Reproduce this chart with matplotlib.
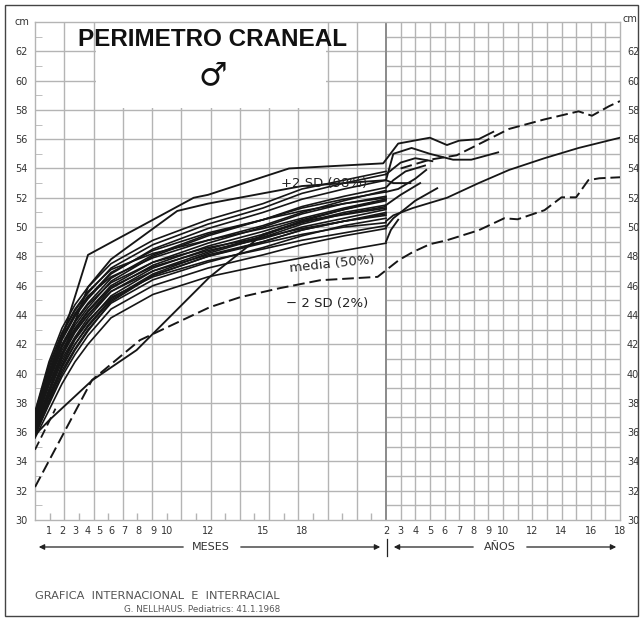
import numpy as np
import matplotlib.pyplot as plt
from matplotlib.patches import Rectangle, FancyArrowPatch

# ---- x scale: age (months) -> position on the printed sheet (non linear in the first 2 years)
AGE_ANCHORS = [0, 1, 2, 3, 4, 5, 6, 7, 8, 9, 10, 12, 15, 18, 24, 216]
POS_ANCHORS = [35, 49, 62, 75, 88, 99, 111, 124, 138, 153, 167, 208, 263, 302, 386, 620]

def to_pos(a):
    return np.interp(a, AGE_ANCHORS, POS_ANCHORS)

def to_age(p):
    return np.interp(p, POS_ANCHORS, AGE_ANCHORS)

# ---- ticks
tick_ages = [1, 2, 3, 4, 5, 6, 7, 8, 9, 10, 12, 15, 18, 24,
             36, 48, 60, 72, 84, 96, 108, 120, 144, 168, 192, 216]
tick_labels = ['1', '2', '3', '4', '5', '6', '7', '8', '9', '10', '12', '15', '18', '2',
               '3', '4', '5', '6', '7', '8', '9', '10', '12', '14', '16', '18']
cm_ticks = list(range(30, 64, 2))

# ---- patient curves, first two years (age in months)
ages_m = [0, 1, 2, 3, 4, 6, 9, 12, 15, 18, 21, 24]
p01 = [36.8, 39.6, 41.8, 43.3, 44.5, 46.3, 48.0, 49.4, 50.5, 51.4, 52.1, 52.7]
p02 = [36.2, 38.5, 40.5, 42.0, 43.2, 45.0, 46.7, 48.0, 49.0, 49.8, 50.4, 51.0]
p03 = [37.0, 40.0, 42.3, 43.9, 45.1, 46.8, 48.5, 49.9, 51.0, 51.9, 52.6, 53.2]
p04 = [36.5, 39.2, 41.2, 42.8, 44.0, 45.8, 47.4, 48.7, 49.7, 50.5, 51.2, 51.8]
p05 = [35.8, 37.9, 39.8, 41.3, 42.6, 44.4, 46.0, 47.2, 48.1, 48.8, 49.4, 49.9]
p06 = [37.2, 40.4, 42.7, 44.3, 45.5, 47.2, 48.8, 50.2, 51.3, 52.3, 53.0, 53.6]
p07 = [36.6, 39.3, 41.4, 42.9, 44.0, 45.6, 47.0, 48.1, 49.0, 49.8, 50.4, 50.9]
p08 = [36.0, 38.2, 40.2, 41.7, 43.0, 44.8, 46.4, 47.6, 48.6, 49.4, 50.1, 50.6]
p09 = [36.9, 39.8, 42.0, 43.6, 44.8, 46.5, 48.1, 49.5, 50.5, 51.3, 51.9, 52.4]
p10 = [35.6, 37.5, 39.3, 40.8, 42.0, 43.8, 45.4, 46.6, 47.4, 47.9, 48.4, 48.9]
p11 = [36.4, 38.9, 41.0, 42.5, 43.8, 45.6, 47.2, 48.5, 49.5, 50.3, 51.0, 51.5]
p12 = [37.4, 40.8, 43.1, 44.7, 45.9, 47.5, 49.1, 50.5, 51.6, 52.6, 53.2, 53.8]
p13 = [36.3, 38.7, 40.8, 42.4, 43.6, 45.2, 46.6, 47.7, 48.5, 49.1, 49.6, 50.1]
p14 = [36.7, 39.5, 41.6, 43.1, 44.3, 46.0, 47.6, 48.9, 50.0, 50.9, 51.6, 52.1]
p15 = [36.1, 38.4, 40.4, 42.0, 43.3, 45.1, 46.8, 48.2, 49.3, 50.2, 50.9, 51.4]
p16 = [36.8, 39.7, 41.9, 43.5, 44.7, 46.2, 47.6, 48.6, 49.3, 49.9, 50.4, 50.8]
p17 = [35.9, 38.0, 40.0, 41.6, 42.9, 44.9, 46.7, 48.0, 48.9, 49.5, 50.0, 50.3]
p18 = [37.1, 40.2, 42.5, 44.0, 45.2, 46.9, 48.4, 49.6, 50.5, 51.1, 51.6, 52.0]
p19 = [36.6, 39.9, 42.4, 44.1, 45.3, 46.6, 47.9, 49.1, 50.1, 51.0, 51.8, 52.5]
p20 = [36.0, 38.9, 41.3, 43.0, 44.2, 45.9, 47.3, 48.4, 49.2, 50.0, 50.6, 51.2]
p21 = [37.3, 40.6, 42.8, 44.4, 45.6, 47.1, 48.2, 49.1, 49.9, 50.6, 51.3, 51.9]
p22 = [35.7, 38.1, 40.6, 42.3, 43.5, 45.3, 47.0, 48.3, 49.4, 50.4, 51.2, 51.9]
bundle = [p01, p02, p03, p04, p05, p06, p07, p08, p09, p10, p11,
          p12, p13, p14, p15, p16, p17, p18, p19, p20, p21, p22]

# outliers
top_ages = [0, 4, 11.3, 12, 17, 23.8, 34, 60, 74, 84, 100, 112]
top_cm = [36.5, 48.1, 52.0, 52.2, 54.0, 54.35, 55.7, 56.1, 55.6, 55.9, 56.0, 56.5]
second_ages = [0, 2, 4, 6, 10.5, 12, 18, 24, 30, 45, 60, 79, 94, 116]
second_cm = [36.0, 41.2, 45.9, 47.8, 51.1, 51.6, 52.8, 53.2, 55.0, 55.4, 55.0, 54.6, 54.6, 55.1]
low_ages = [0, 1, 4.4, 7.9, 12.1, 15, 18, 24]
low_cm = [35.8, 36.8, 39.55, 41.6, 46.6, 49.5, 50.4, 51.3]
short_dash_ages = [0, 1.5]
short_dash_cm = [34.8, 37.6]

# curves continuing after 2 years
ya_ages, ya_cm = [24, 36, 48, 62], [53.6, 54.4, 54.7, 54.5]
yb_ages, yb_cm = [24, 30, 44], [53.2, 53.0, 53.0]
yc_ages, yc_cm = [24, 30, 40, 56], [52.7, 53.2, 53.8, 54.2]
yd_ages, yd_cm = [24, 34, 48, 57], [52.4, 52.6, 53.3, 53.9]
ye_ages, ye_cm = [24, 30, 48, 66], [50.0, 50.6, 51.8, 52.65]
yf_ages, yf_cm = [24, 36, 52], [51.5, 52.2, 53.0]
yg_ages, yg_cm = [24, 28, 34], [49.0, 49.8, 50.5]

# reference curves
plus2_ages = [36, 48, 60, 82, 100, 125, 154, 182, 193, 207, 216]
plus2_cm = [54.0, 54.3, 54.6, 54.9, 55.65, 56.7, 57.35, 57.9, 57.6, 58.25, 58.6]
median_ages = [24, 30, 46, 74, 100, 125, 154, 182, 216]
median_cm = [50.4, 50.8, 51.3, 52.0, 53.0, 53.9, 54.7, 55.4, 56.1]
minus2_ages = [0, 4.36, 8.13, 12.1, 13.75, 16.3, 19.3, 23.4, 34.5, 45.7, 60, 74, 100,
               121, 132, 154, 168, 180, 190, 199, 216]
minus2_cm = [32.25, 39.55, 42.28, 44.53, 45.21, 45.83, 46.37, 46.6, 47.74, 48.28, 48.83,
             49.1, 49.78, 50.6, 50.53, 51.15, 52.03, 52.03, 53.2, 53.33, 53.4]

W, H = 643, 621
def fx(px):
    return px / W
def fy(py):
    return 1 - py / H

GRID = '#b4b4b4'
INK = '#161616'
TXT = '#333333'

fig = plt.figure(figsize=(6.43, 6.21), dpi=100)
ax = fig.add_axes([fx(35), fy(520), fx(620) - fx(35), fy(22) - fy(520)])
ax.set_xscale('function', functions=(to_pos, to_age))
ax.set_xlim(0, 216)
ax.set_ylim(30, 64)

# grid: months part (every 2 cm, even columns), years part (every cm, every year)
month_cols = to_age(np.linspace(35, 386, 13))[1:-1]
ax.vlines(month_cols, 30, 64, color=GRID, lw=1.0, zorder=1)
ax.hlines(np.arange(32, 64, 2), 0, 24, color=GRID, lw=1.0, zorder=1)
ax.vlines(np.arange(36, 216, 12), 30, 64, color=GRID, lw=1.0, zorder=1)
ax.hlines(np.arange(31, 64), 24, 216, color=GRID, lw=1.0, zorder=1)
ax.vlines([24], 30, 64, color='#8a8a8a', lw=1.4, zorder=1)
half_cols = to_age(35 + 29.25 * (np.arange(12) + 0.5))
ax.vlines(half_cols, 30, 30.45, color=GRID, lw=1.0, zorder=1)
ax.add_patch(Rectangle((to_age(96), 58.1), to_age(326) - to_age(96), 5.9,
                       fc='white', ec='none', zorder=1.5))

for s in ax.spines.values():
    s.set_color(GRID)
    s.set_linewidth(1.0)

# patient curves
for p in bundle:
    ax.plot(ages_m, p, color=INK, lw=1.2, zorder=3)
for a, c in [(top_ages, top_cm), (second_ages, second_cm), (low_ages, low_cm),
             (ya_ages, ya_cm), (yb_ages, yb_cm), (yc_ages, yc_cm), (yd_ages, yd_cm),
             (ye_ages, ye_cm), (yf_ages, yf_cm), (yg_ages, yg_cm)]:
    ax.plot(a, c, color=INK, lw=1.35, zorder=3)
ax.plot(short_dash_ages, short_dash_cm, color=INK, lw=1.3, ls=(0, (5, 2.5)), zorder=3)

# reference curves
ax.plot(plus2_ages, plus2_cm, color=INK, lw=1.4, ls=(0, (6, 2.5)), zorder=3)
ax.plot(median_ages, median_cm, color=INK, lw=1.3, zorder=3)
ax.plot(minus2_ages, minus2_cm, color=INK, lw=1.4, ls=(0, (6, 2.5)), zorder=3)

# ticks
ax.set_xticks(tick_ages)
ax.set_xticklabels(tick_labels)
ax.tick_params(axis='x', length=0, pad=4, labelsize=7, labelcolor=TXT)
ax.set_yticks(cm_ticks)
ax.set_yticklabels([str(v) for v in cm_ticks])
ax.tick_params(axis='y', length=0, pad=5, labelsize=7, labelcolor=TXT, labelright=True)
ax.set_yticks(np.arange(31, 64, 2), minor=True)
ax.tick_params(axis='y', which='minor', direction='in', length=5, color=GRID, left=True, right=False)

fig.text(fx(22), fy(22), 'cm', fontsize=7, color=TXT, ha='center', va='center')
fig.text(fx(630), fy(19), 'cm', fontsize=7, color=TXT, ha='center', va='center')

# title block
fig.text(fx(213), fy(39), 'PERIMETRO CRANEAL', ha='center', va='center', fontsize=17.5,
         fontweight='bold', color='#111111', family='Liberation Sans')
fig.text(fx(213), fy(76), '\u2642', ha='center', va='center', fontsize=23, color='#111111',
         family='DejaVu Sans')

# curve labels
fig.text(fx(281), fy(184), '+2 SD (98%)', fontsize=9.5, color='#222222', ha='left', va='center', zorder=5)
fig.text(fx(289), fy(264), 'media (50%)', fontsize=9.5, color='#222222', ha='left', va='center',
         rotation=6, zorder=5)
fig.text(fx(286), fy(304), '\u2212 2 SD (2%)', fontsize=9.5, color='#222222', ha='left', va='center', zorder=5)

# MESES / AÑOS arrows
ay = fy(547)
def arrow(x0, x1):
    fig.add_artist(FancyArrowPatch((fx(x0), ay), (fx(x1), ay), transform=fig.transFigure,
                                   arrowstyle='-|>', mutation_scale=8, color='#222222', lw=0.9))
arrow(186, 36)
arrow(238, 383)
arrow(476, 391)
arrow(524, 619)
fig.add_artist(plt.Line2D([fx(387), fx(387)], [fy(539), fy(556)], transform=fig.transFigure,
                          color='#222222', lw=0.9))
fig.text(fx(211), ay, 'MESES', fontsize=8, color=TXT, ha='center', va='center')
fig.text(fx(500), ay, 'AÑOS', fontsize=8, color=TXT, ha='center', va='center')

# source
fig.text(fx(35), fy(596), 'GRAFICA  INTERNACIONAL  E  INTERRACIAL', fontsize=8.2, color='#555555',
         ha='left', va='center')
fig.text(fx(280), fy(609), 'G. NELLHAUS. Pediatrics: 41.1.1968', fontsize=6.3, color='#555555',
         ha='right', va='center')

# outer frame
fig.add_artist(Rectangle((fx(5), fy(616)), fx(638) - fx(5), fy(5) - fy(616), transform=fig.transFigure,
                         fill=False, ec='#444444', lw=1.0))

fig.savefig('out.png', dpi=100)
